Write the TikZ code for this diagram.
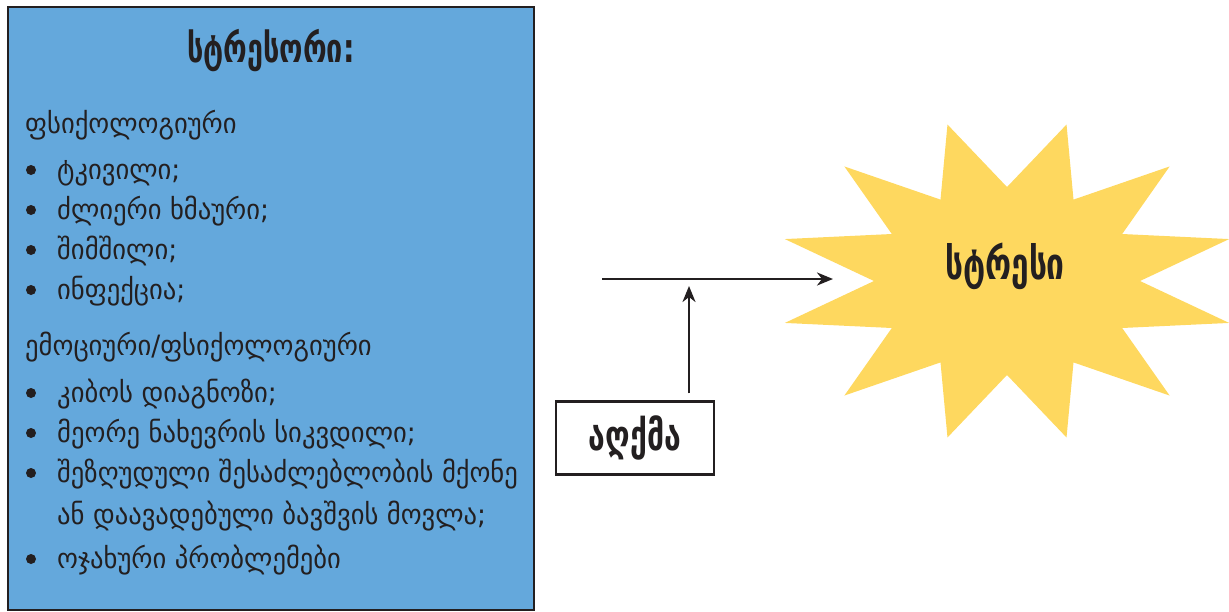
\documentclass[tikz,border=0pt]{standalone}
\usepackage{fontspec}
\setmainfont{DejaVu Sans}[FakeStretch=0.95]
\newfontfamily\headfont{DejaVu Sans Condensed Bold}[FakeStretch=0.8]
\usetikzlibrary{arrows.meta}
\definecolor{boxblue}{HTML}{64A8DC}
\definecolor{staryellow}{HTML}{FED85F}
\definecolor{ink}{HTML}{231F20}
\tikzset{
  item/.style={anchor=base west, inner sep=0pt, text=ink, font=\fontsize{28}{34}\selectfont},
  dot/.style={circle, fill=ink, inner sep=0pt, minimum size=10pt},
  head/.style={anchor=base, inner sep=0pt, text=ink, font=\headfont\fontsize{40}{48}\selectfont},
  arr/.style={draw=ink, line width=2.4pt, -{Stealth[length=16pt,width=13pt,inset=5pt]}}
}

\begin{document}
\begin{tikzpicture}[x=1pt,y=-1pt]
\useasboundingbox (0,0) rectangle (1229,611);

% stressors box
\draw [ink, line width=2.5pt, fill=boxblue] (8,7) rectangle (534,610);

\node (title) at (271,62) [head] {სტრესორი:};

\node (physio) at (25,133) [item] {ფსიქოლოგიური};
\node (d1) at (31,170) [dot] {};
\node (d2) at (31,210) [dot] {};
\node (d3) at (31,250) [dot] {};
\node (d4) at (31,290) [dot] {};
\node (pain) at (57,179) [item] {ტკივილი;};
\node (noise) at (57,219) [item] {ძლიერი ხმაური;};
\node (hunger) at (57,259) [item] {შიმშილი;};
\node (infect) at (57,299) [item] {ინფექცია;};

\node (emo) at (25,355) [item] {ემოციური/ფსიქოლოგიური};
\node (d5) at (31,393) [dot] {};
\node (d6) at (31,433) [dot] {};
\node (d7) at (31,473) [dot] {};
\node (d8) at (31,559) [dot] {};
\node (cancer) at (57,402) [item] {კიბოს დიაგნოზი;};
\node (death) at (57,442) [item] {მეორე ნახევრის სიკვდილი;};
\node (care) at (57,482) [item] {შეზღუდული შესაძლებლობის მქონე};
\node (care2) at (57,524) [item] {ან დაავადებული ბავშვის მოვლა;};
\node (family) at (57,568) [item] {ოჯახური პრობლემები};

% the star
\begin{scope}[shift={(1007,281)}]
  \fill [staryellow] (15:230 and 162)
    \foreach \a in {30,60,...,360} { -- (\a:133 and 94) -- (\a+15:230 and 162) } -- cycle;
\end{scope}
\node (stress) at (1005,279) [head, font=\headfont\fontsize{44}{52}\selectfont] {სტრესი};

% perception and arrows
\node (percept) at (635,438) [draw=ink, line width=2.4pt, minimum width=158pt, minimum height=73pt,
  inner sep=0pt, text=ink, font=\headfont\fontsize{42}{50}\selectfont] {აღქმა};
\coordinate (from) at (602,279);
\coordinate (to) at (833,279);
\draw [arr] (from) -- (to);
\draw [arr] ([yshift=7pt]percept.north -| 689,0) -- (689,286);

\end{tikzpicture}
\end{document}
